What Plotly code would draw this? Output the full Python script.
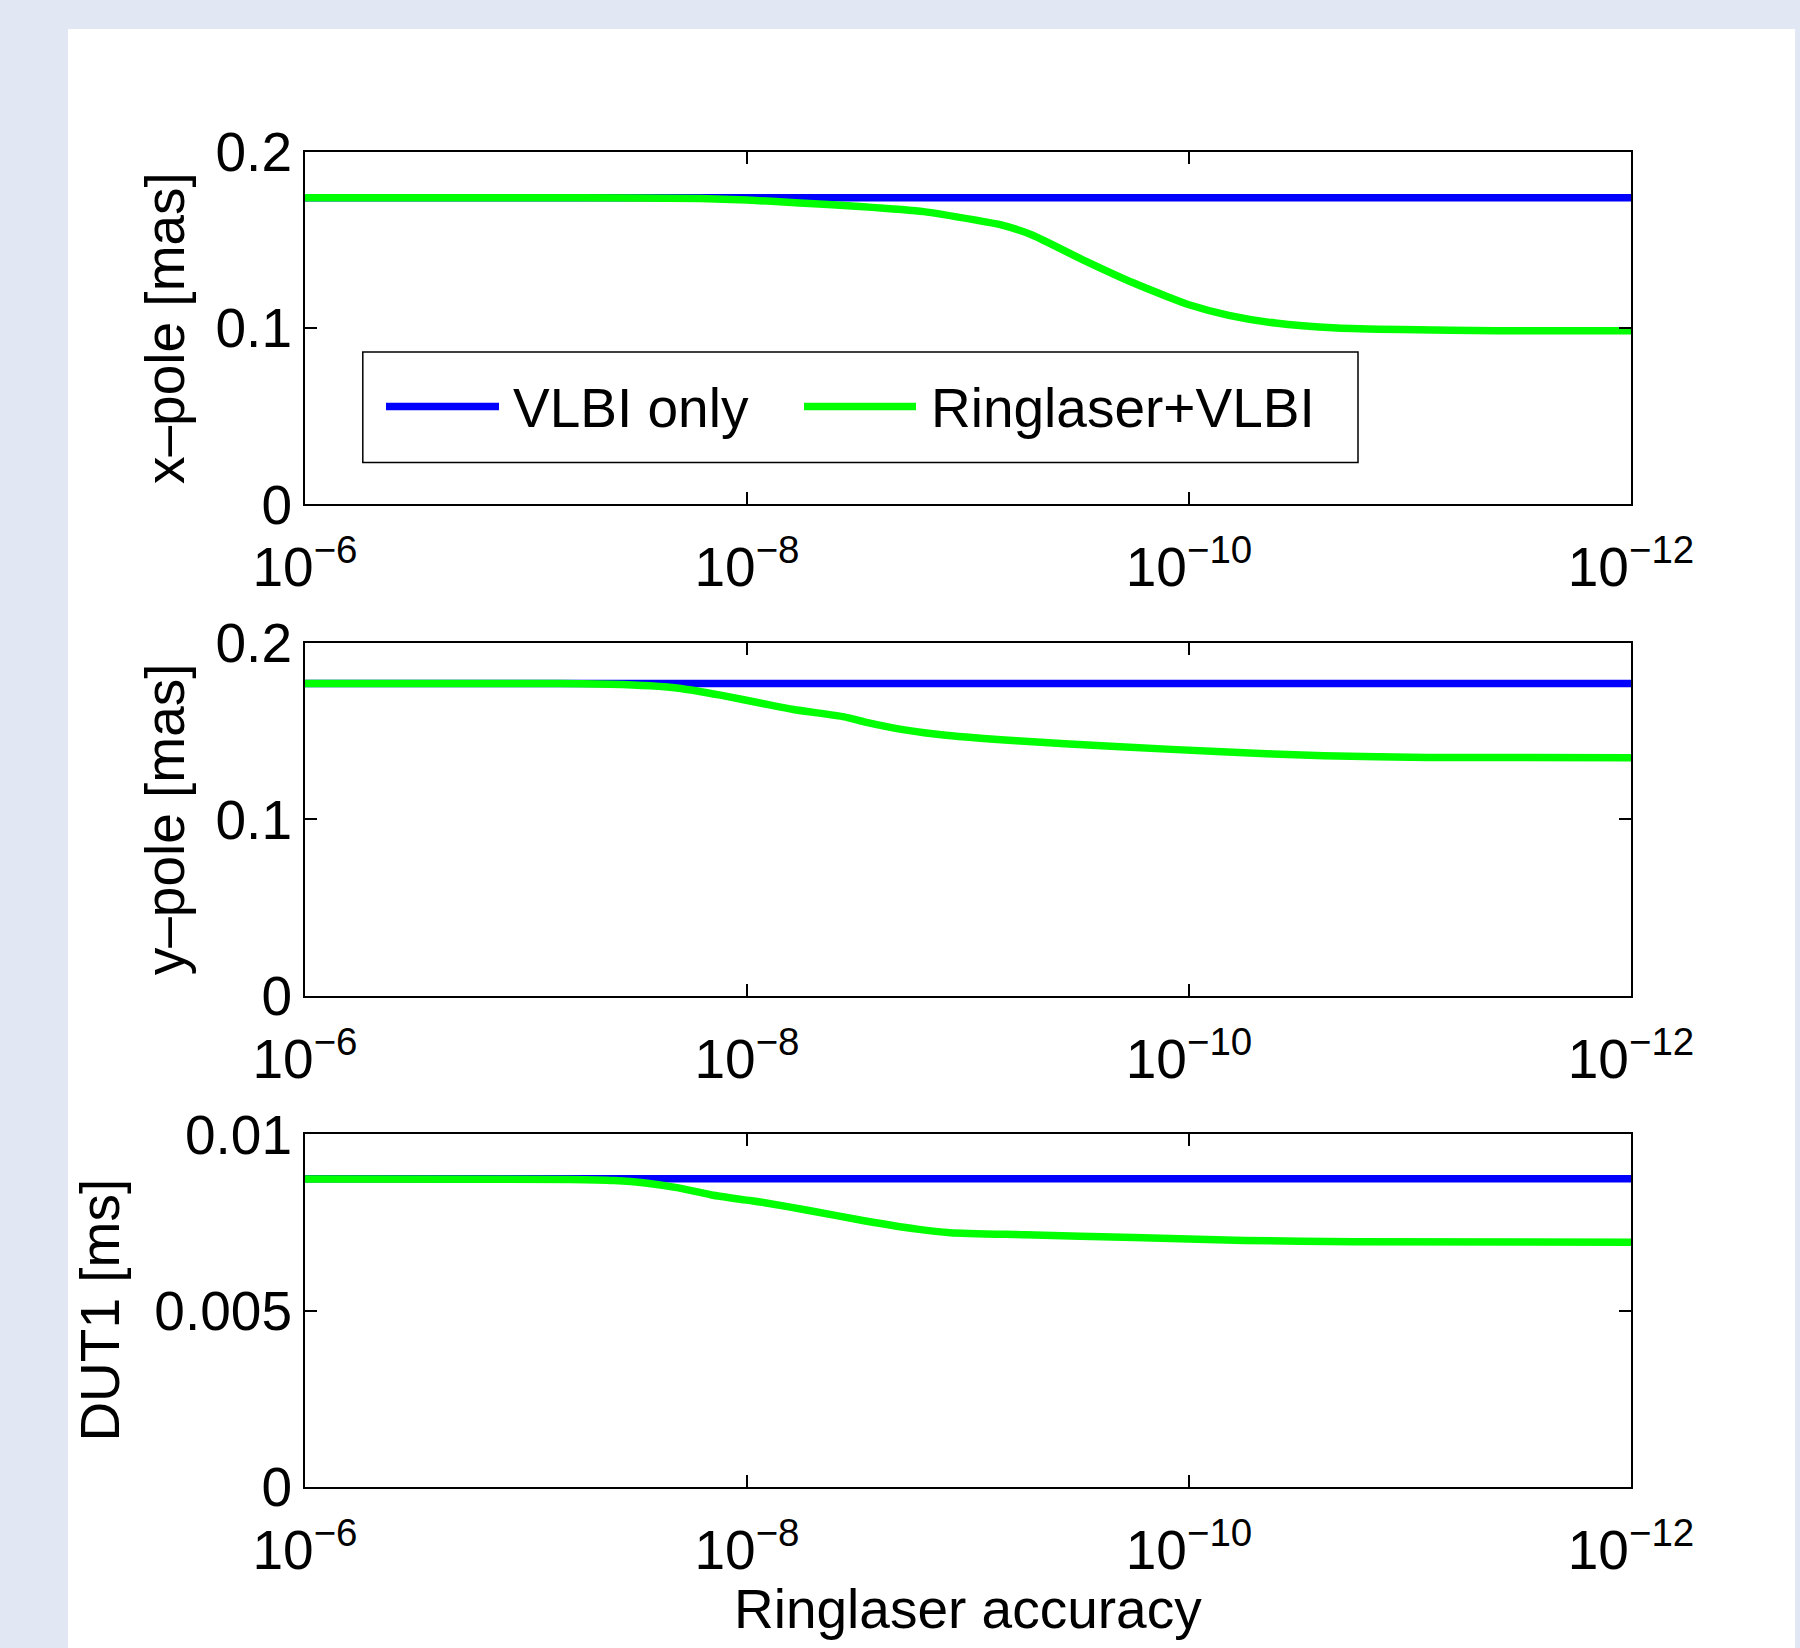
import plotly.graph_objects as go

# ---- data -------------------------------------------------------------
# Ringlaser accuracy is given as log10 exponents (10^-6 ... 10^-12)
tick_exponents = [-6, -8, -10, -12]
tick_labels = ["10<sup>\u22126</sup>", "10<sup>\u22128</sup>",
               "10<sup>\u221210</sup>", "10<sup>\u221212</sup>"]

vlbi_log_acc = [-6, -12]

# x-pole formal errors [mas]
xpole_vlbi = [0.1739, 0.1739]
xpole_log_acc = [-6.0, -7.0, -7.5, -7.79, -8.0, -8.22, -8.51, -8.80, -9.03, -9.15,
                 -9.29, -9.52, -9.75, -9.90, -10.0, -10.18, -10.39, -10.67, -10.96,
                 -11.39, -12.0]
xpole_ring = [0.1739, 0.1739, 0.1737, 0.1734, 0.1726, 0.1711, 0.1689, 0.1660, 0.1613,
              0.1585, 0.1528, 0.1387, 0.1255, 0.1179, 0.1132, 0.1072, 0.1028, 0.1000,
              0.0991, 0.0985, 0.0984]

# y-pole formal errors [mas]
ypole_vlbi = [0.1770, 0.1770]
ypole_log_acc = [-6.0, -7.15, -7.38, -7.56, -7.70, -7.88, -8.07, -8.21, -8.44, -8.53,
                 -8.72, -8.90, -9.22, -9.69, -10.15, -10.61, -11.08, -12.0]
ypole_ring = [0.1770, 0.1770, 0.1766, 0.1757, 0.1742, 0.1704, 0.1657, 0.1623, 0.1581,
              0.1553, 0.1506, 0.1477, 0.1445, 0.1411, 0.1383, 0.1360, 0.1351, 0.1349]

# DUT1 formal errors [ms]
dut1_vlbi = [0.00874, 0.00874]
dut1_log_acc = [-6.0, -7.20, -7.40, -7.54, -7.69, -7.84, -7.99, -8.08, -8.28, -8.53,
                -8.77, -8.92, -9.26, -9.75, -10.25, -10.74, -12.0]
dut1_ring = [0.00873, 0.00872, 0.00869, 0.00862, 0.00848, 0.00828, 0.00814, 0.00806,
             0.00784, 0.00755, 0.00731, 0.00721, 0.00715, 0.00707, 0.00699, 0.00695,
             0.00694]

panel_titles = ["x\u2013pole [mas]", "y\u2013pole [mas]", "DUT1 [ms]"]
panel_ytickvals = [[0, 0.1, 0.2], [0, 0.1, 0.2], [0, 0.005, 0.01]]
panel_yticktext = [["0", "0.1", "0.2"], ["0", "0.1", "0.2"], ["0", "0.005", "0.01"]]
panel_yrange = [[0, 0.2], [0, 0.2], [0, 0.01]]
series_names = ["VLBI only", "Ringlaser+VLBI"]

# ---- figure geometry (pixels) ----------------------------------------
W, H = 1800, 1648
FONT = "Liberation Sans, Arial, Helvetica, sans-serif"
FS = 55
BLUE = "#0000ff"
GREEN = "#00ff00"
LW = 7.5

plot_left, plot_right = 305, 1631
plot_tops = [151.7, 643.0, 1134.3]
plot_h = 352.6


def px(x):
    return x / W


def py(y):
    return 1 - y / H


def acc(exps):
    return [10.0 ** e for e in exps]


fig = go.Figure()

panels = [
    (xpole_vlbi, xpole_log_acc, xpole_ring),
    (ypole_vlbi, ypole_log_acc, ypole_ring),
    (dut1_vlbi, dut1_log_acc, dut1_ring),
]

for i, (vlbi, ring_x, ring_y) in enumerate(panels):
    n = "" if i == 0 else str(i + 1)
    fig.add_trace(go.Scatter(x=acc(vlbi_log_acc), y=vlbi, mode="lines",
                             name=series_names[0], showlegend=False,
                             line=dict(color=BLUE, width=LW),
                             xaxis="x" + n, yaxis="y" + n))
    fig.add_trace(go.Scatter(x=acc(ring_x), y=ring_y, mode="lines",
                             name=series_names[1], showlegend=False,
                             line=dict(color=GREEN, width=LW,
                                       shape="spline", smoothing=0.6),
                             xaxis="x" + n, yaxis="y" + n))

layout = dict(
    width=W, height=H,
    margin=dict(l=0, r=0, t=0, b=0, pad=0),
    paper_bgcolor="#e1e8f4",
    plot_bgcolor="white",
    font=dict(family=FONT, size=FS, color="black"),
    showlegend=False,
)

axis_common = dict(
    showline=True, linecolor="black", linewidth=2, mirror="ticks",
    ticks="inside", ticklen=12, tickwidth=1.5, tickcolor="black",
    showgrid=False, zeroline=False, automargin=False,
    tickfont=dict(family=FONT, size=FS, color="black"),
)

for i in range(3):
    n = "" if i == 0 else str(i + 1)
    top = plot_tops[i]
    bottom = top + plot_h
    layout["xaxis" + n] = dict(
        axis_common, type="log", range=[-6, -12],
        domain=[px(plot_left), px(plot_right)], anchor="y" + n,
        tickvals=acc(tick_exponents), ticktext=tick_labels,
        ticklabelstandoff=14,
    )
    layout["yaxis" + n] = dict(
        axis_common, range=panel_yrange[i],
        domain=[py(bottom), py(top)], anchor="x" + n,
        tickvals=panel_ytickvals[i], ticktext=panel_yticktext[i],
        ticklabelstandoff=0,
    )

fig.update_layout(**layout)

# white figure panel behind the axes
shapes = [dict(type="rect", xref="paper", yref="paper",
               x0=px(68), x1=px(1795), y0=0, y1=py(29),
               fillcolor="white", line=dict(width=0), layer="below")]

# legend box with line samples (top panel)
shapes.append(dict(type="rect", xref="paper", yref="paper",
                   x0=px(362.8), x1=px(1358), y0=py(462.5), y1=py(352),
                   fillcolor="white", line=dict(color="black", width=1.5),
                   layer="above"))
shapes.append(dict(type="line", xref="paper", yref="paper",
                   x0=px(386), x1=px(499), y0=py(406.5), y1=py(406.5),
                   line=dict(color=BLUE, width=LW), layer="above"))
shapes.append(dict(type="line", xref="paper", yref="paper",
                   x0=px(804), x1=px(916), y0=py(406.5), y1=py(406.5),
                   line=dict(color=GREEN, width=LW), layer="above"))

annotations = [
    dict(text=series_names[0], xref="paper", yref="paper", x=px(511), y=py(408),
         xanchor="left", yanchor="middle", showarrow=False,
         font=dict(family=FONT, size=FS, color="black")),
    dict(text=series_names[1], xref="paper", yref="paper", x=px(929), y=py(408),
         xanchor="left", yanchor="middle", showarrow=False,
         font=dict(family=FONT, size=FS, color="black")),
    dict(text="Ringlaser accuracy", xref="paper", yref="paper",
         x=px((plot_left + plot_right) / 2), y=py(1609),
         xanchor="center", yanchor="middle", showarrow=False,
         font=dict(family=FONT, size=FS, color="black")),
]

title_x = [165, 165, 100]
for i in range(3):
    center = plot_tops[i] + plot_h / 2
    annotations.append(dict(text=panel_titles[i], xref="paper", yref="paper",
                            x=px(title_x[i]), y=py(center), textangle=-90,
                            xanchor="center", yanchor="middle", showarrow=False,
                            font=dict(family=FONT, size=FS, color="black")))

fig.update_layout(shapes=shapes, annotations=annotations)

fig.write_html("out.html")
